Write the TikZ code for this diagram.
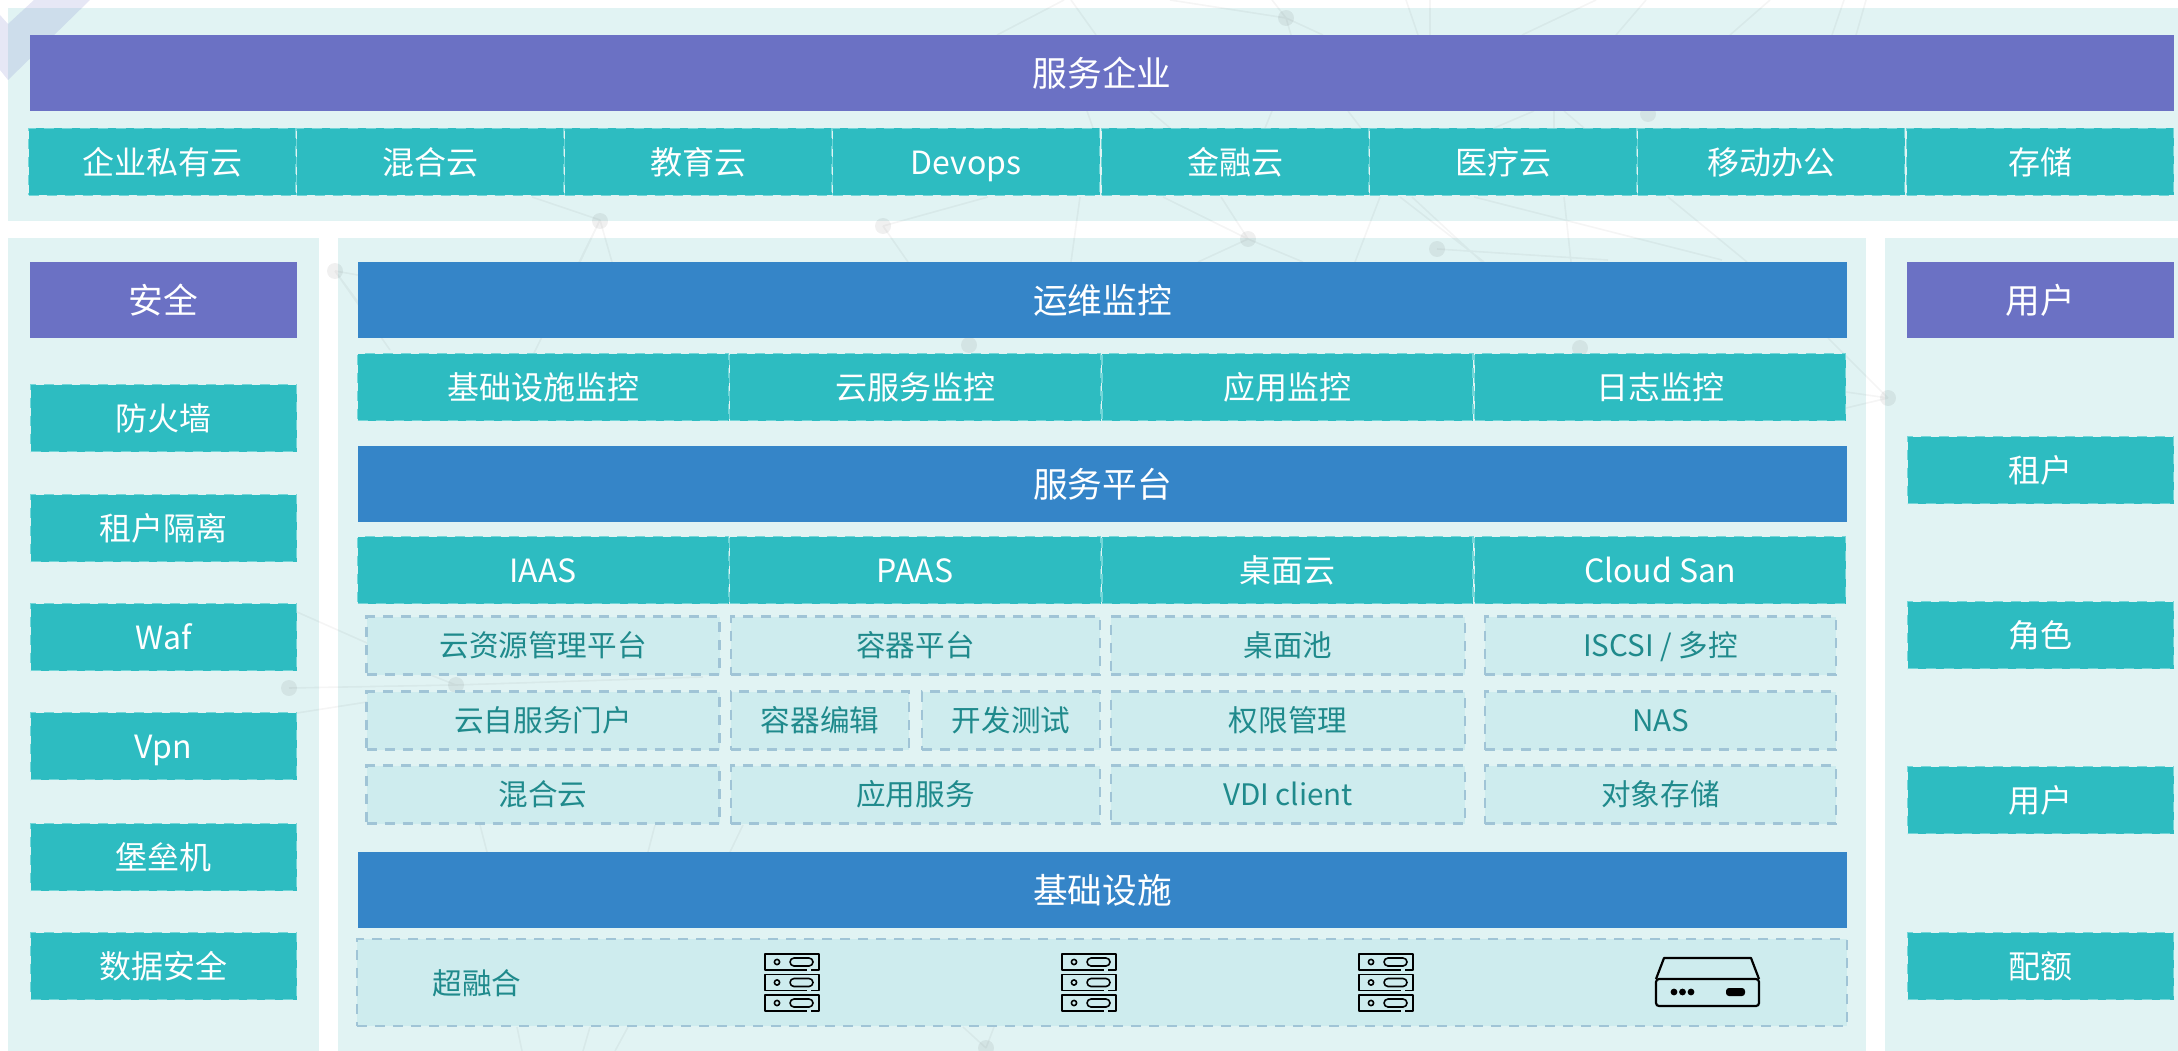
\documentclass[tikz,border=0pt]{standalone}
\usepackage{fontspec}
\setmainfont{Noto Sans CJK SC}
\newcommand{\rangee}[2]{
\draw[rack] (#1+46,#2+16) -- (#1+54,#2+16) -- (#1+54,#2) -- (#1,#2) -- (#1,#2+16) -- (#1+42,#2+16);
\draw[rack] (#1+12,#2+8) circle (2.6pt);
\draw[rack, rounded corners=4pt] (#1+25,#2+4) rectangle (#1+48,#2+12);
}
\newcommand{\baie}[1]{\rangee{#1}{954}\rangee{#1}{974.5}\rangee{#1}{995}}

\begin{document}
\begin{tikzpicture}[x=1pt,y=-1pt]
\tikzstyle{tete}=[inner sep=0pt, outer sep=0pt, minimum height=76pt, text=white, text height=30.5pt, text depth=4.2pt, font=\fontsize{34.7}{34.7}\selectfont]
\tikzstyle{violet}=[tete, fill=violetb]
\tikzstyle{bleu}=[tete, fill=bleub, minimum width=1489pt]
\tikzstyle{cellule}=[inner sep=0pt, outer sep=0pt, minimum height=67pt, fill=turq, draw=turqc, line width=1.5pt, dash pattern=on 10pt off 8pt, text=white, text height=28.2pt, text depth=3.8pt, font=\fontsize{32}{32}\selectfont]
\tikzstyle{col8}=[cellule, minimum width=267pt]
\tikzstyle{col4}=[cellule, minimum width=371pt]
\tikzstyle{cote}=[cellule, minimum width=266pt]
\tikzstyle{pale}=[inner sep=0pt, outer sep=0pt, minimum height=58pt, fill=palef, draw=paled, line width=2.2pt, dash pattern=on 10pt off 8pt, text=texte, text height=26pt, text depth=3.6pt, font=\fontsize{29.6}{29.6}\selectfont]
\tikzstyle{rack}=[draw=black, line width=1.6pt, line join=round]
\definecolor{fond}{HTML}{E1F3F3}
\definecolor{violetb}{HTML}{6B71C4}
\definecolor{bleub}{HTML}{3585C8}
\definecolor{turq}{HTML}{2DBCC1}
\definecolor{turqc}{HTML}{73D6D8}
\definecolor{palef}{HTML}{CEECEE}
\definecolor{paled}{HTML}{A0C4D6}
\definecolor{texte}{HTML}{1F8A8C}
\useasboundingbox (0,0) rectangle (2178,1051);
% panneaux
\fill[fond] (8,8) rectangle (2178,221);
\fill[fond] (8,238) rectangle (319,1051);
\fill[fond] (338,238) rectangle (1866,1051);
\fill[fond] (1885,238) rectangle (2178,1051);
% fond
\fill[violetb, fill opacity=.17] (0,15) -- (8,24) -- (34,0) -- (90,0) -- (8,80) -- (0,70) -- cycle;
\draw[black, draw opacity=.04, line width=1.6pt]
(1170,0) -- (1286,18) (1272,0) -- (1286,18) (1286,18) -- (1323,35) (1286,18) -- (1291,35)
(1064,0) -- (997,35) (1071,0) -- (1096,35) (1406,0) -- (1418,35) (1430,0) -- (1430,35)
(1596,0) -- (1522,35) (1646,0) -- (1616,35) (1770,0) -- (1730,35) (1844,0) -- (1832,35) (1866,0) -- (1856,35)
(1087,111) -- (1093,128) (1150,111) -- (1170,128) (1272,111) -- (1265,128) (1348,111) -- (1361,128)
(1534,111) -- (1494,128) (1554,111) -- (1554,128) (1564,111) -- (1584,128)
(532,197) -- (600,220) (600,220) -- (580,262) (600,220) -- (612,262) (600,220) -- (534,353)
(883,226) -- (908,262) (883,226) -- (988,197) (1080,197) -- (1071,262)
(1163,197) -- (1248,239) (1221,197) -- (1248,239) (1248,239) -- (1198,262) (1248,239) -- (1303,262)
(1380,197) -- (1355,262) (1412,197) -- (1482,262)
(1437,249) -- (1608,260) (1474,197) -- (1722,260) (1400,197) -- (1484,262) (1564,197) -- (1571,262) (1668,197) -- (1747,262)
(335,271) -- (358,275) (335,271) -- (358,302) (335,271) -- (390,350)
(1828,338) -- (1888,398) (1846,392) -- (1888,398) (1846,408) -- (1888,398)
(297,612) -- (367,643) (297,713) -- (367,702) (289,688) -- (456,685) (456,685) -- (703,677) (367,650) -- (456,685)
(480,825) -- (487,852) (655,825) -- (648,852) (743,825) -- (730,852)
(517,1027) -- (522,1051) (590,1027) -- (583,1051) (628,1027) -- (615,1051)
(963,1027) -- (986,1048) (994,1027) -- (986,1048);
\fill[black, fill opacity=.06] (600,221) circle (8pt) (883,226) circle (8pt) (1248,239) circle (8pt) (1437,249) circle (8pt) (1286,18) circle (8pt) (1888,398) circle (8pt) (335,271) circle (8pt) (289,688) circle (8pt) (456,685) circle (8pt) (1648,114) circle (8pt) (969,345) circle (8pt) (1580,348) circle (8pt) (986,1048) circle (8pt);
% haut
\node[violet, minimum width=2144pt] (entreprise) at (1102,73) {服务企业};
\node[col8] (prive) at (162,162) {企业私有云};
\node[col8] (hybride) at (430,162) {混合云};
\node[col8] (education) at (698,162) {教育云};
\node[col8] (devops) at (966,162) {Devops};
\node[col8] (finance) at (1235,162) {金融云};
\node[col8] (sante) at (1503,162) {医疗云};
\node[col8] (mobile) at (1771,162) {移动办公};
\node[col8] (stockage) at (2040,162) {存储};
% securite
\node[violet, minimum width=267pt] (securite) at (163.5,300) {安全};
\node[cote] (parefeu) at (163.5,418) {防火墙};
\node[cote] (isolation) at (163.5,528) {租户隔离};
\node[cote] (waf) at (163.5,637) {Waf};
\node[cote] (vpn) at (163.5,746) {Vpn};
\node[cote] (bastion) at (163.5,857) {堡垒机};
\node[cote] (donnees) at (163.5,966) {数据安全};
% utilisateurs
\node[violet, minimum width=267pt] (usagers) at (2040.5,300) {用户};
\node[cote] (locataire) at (2040.5,470) {租户};
\node[cote] (role) at (2040.5,635) {角色};
\node[cote] (usager) at (2040.5,800) {用户};
\node[cote] (quota) at (2040.5,966) {配额};
% supervision
\node[bleu] (supervision) at (1102.5,300) {运维监控};
\node[col4] (supbase) at (543,387) {基础设施监控};
\node[col4] (supcloud) at (915,387) {云服务监控};
\node[col4] (supappli) at (1287.5,387) {应用监控};
\node[col4] (supjournal) at (1660,387) {日志监控};
% plateforme
\node[bleu] (plateforme) at (1102.5,484) {服务平台};
\node[col4] (iaas) at (543,570) {IAAS};
\node[col4] (paas) at (915,570) {PAAS};
\node[col4] (bureau) at (1287.5,570) {桌面云};
\node[col4] (san) at (1660,570) {Cloud San};
\node[pale, minimum width=353pt] (gestion) at (543,645.5) {云资源管理平台};
\node[pale, minimum width=353pt] (portail) at (543,720.5) {云自服务门户};
\node[pale, minimum width=353pt] (mixte) at (543,794.5) {混合云};
\node[pale, minimum width=369pt] (conteneur) at (915.5,645.5) {容器平台};
\node[pale, minimum width=178pt] (edition) at (820,720.5) {容器编辑};
\node[pale, minimum width=178pt] (test) at (1011,720.5) {开发测试};
\node[pale, minimum width=369pt] (service) at (915.5,794.5) {应用服务};
\node[pale, minimum width=354pt] (pool) at (1288,645.5) {桌面池};
\node[pale, minimum width=354pt] (droits) at (1288,720.5) {权限管理};
\node[pale, minimum width=354pt] (vdi) at (1288,794.5) {VDI client};
\node[pale, minimum width=351pt] (iscsi) at (1660.5,645.5) {ISCSI / 多控};
\node[pale, minimum width=351pt] (nas) at (1660.5,720.5) {NAS};
\node[pale, minimum width=351pt] (objet) at (1660.5,794.5) {对象存储};
% infrastructure
\node[bleu] (infra) at (1102.5,890) {基础设施};
\node[pale, minimum width=1490pt, minimum height=87pt] (bande) at (1102,982.5) {};
\node[text=texte, inner sep=0pt, text height=26pt, text depth=3.6pt, font=\fontsize{29.6}{29.6}\selectfont] (hyper) at (477,983) {超融合};
% serveurs
\baie{765}
\baie{1062}
\baie{1359}
% boitier
\draw[line width=2.2pt, rounded corners=3pt] (1656,979) rectangle (1759,1006);
\draw[line width=2.2pt, line join=round] (1656,979) -- (1664,958) -- (1751,958) -- (1759,979);
\fill (1674,992) circle (3.4pt) (1682.5,992) circle (3.4pt) (1691,992) circle (3.4pt);
\fill[rounded corners=3pt] (1726,988) rectangle (1745,996);
\end{tikzpicture}
\end{document}
